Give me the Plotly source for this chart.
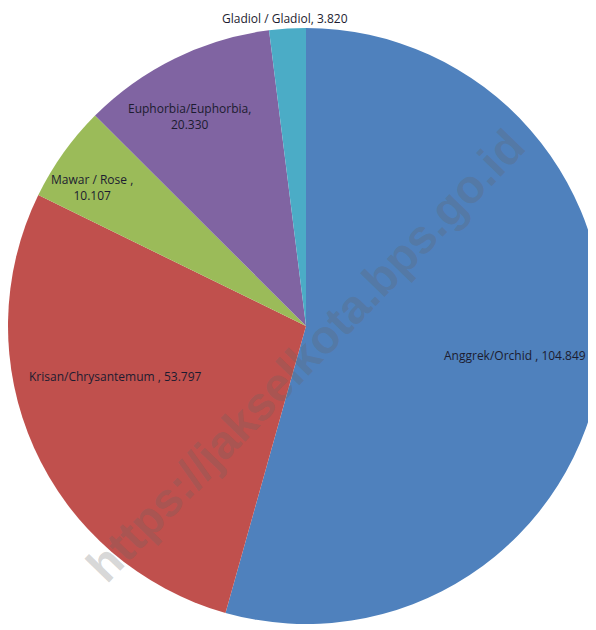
import numpy as np
import plotly.graph_objects as go

labels = ["Anggrek/Orchid", "Krisan/Chrysantemum", "Mawar / Rose", "Euphorbia/Euphorbia", "Gladiol / Gladiol"]
values = [104849, 53797, 10107, 20330, 3820]
value_text = ["104.849", "53.797", "10.107", "20.330", "3.820"]
colors = ["#4F81BD", "#C0504D", "#9BBB59", "#8064A2", "#4BACC6"]

texts = [
    f"{labels[0]} , {value_text[0]}",
    f"{labels[1]} , {value_text[1]}",
    f"{labels[2]} ,<br>{value_text[2]}",
    f"{labels[3]},<br>{value_text[3]}",
    f"{labels[4]}, {value_text[4]}",
]

W, H = 596, 630
OFF = 8  # page body margin offset
# pie: radius 298, centre at figure px (298, 318)
dom_x = [0.0, 1.0]
dom_y = [1 - 616 / H, 1 - 20 / H]

fig = go.Figure(go.Pie(
    labels=labels,
    values=values,
    textinfo="none",
    marker=dict(colors=colors, line=dict(width=0)),
    sort=False,
    direction="clockwise",
    rotation=0,
    showlegend=False,
    domain=dict(x=dom_x, y=dom_y),
    hoverinfo="label+value",
))

# label placement: slice mid-angle (from data) with per-label nudges (layout style)
cx_px = (dom_x[0] + dom_x[1]) / 2 * W
cy_px = (1 - (dom_y[0] + dom_y[1]) / 2) * H
r_px = min((dom_x[1] - dom_x[0]) * W, (dom_y[1] - dom_y[0]) * H) / 2
frac = np.array(values) / np.sum(values)
ends = np.cumsum(frac) * 360
mids = ends - frac * 180
angle_nudge = [0.3, 9.4, -2.5, -2.9, -0.4]
radius_frac = [0.708, 0.662, 0.856, 0.805, 1.036]
for i, t in enumerate(texts):
    a = np.deg2rad(mids[i] + angle_nudge[i])
    px = cx_px + radius_frac[i] * r_px * np.sin(a)
    py = cy_px - radius_frac[i] * r_px * np.cos(a)
    fig.add_annotation(
        text=t, x=px / W, y=1 - py / H, xref="paper", yref="paper",
        showarrow=False, xanchor="center", yanchor="middle",
        font=dict(family="Open Sans", size=12, color="#1c1c30"),
        align="center", borderpad=0,
    )

fig.add_annotation(
    text="https://jakselkota.bps.go.id",
    x=(305 - OFF) / W, y=1 - (355 - OFF) / H, xref="paper", yref="paper",
    showarrow=False, textangle=-46,
    font=dict(family="Liberation Sans", size=47, color="rgba(100,100,100,0.27)", weight="bold"),
)

fig.update_layout(
    width=W, height=H,
    margin=dict(l=0, r=0, t=0, b=0),
    paper_bgcolor="white",
    plot_bgcolor="white",
)

fig.write_html("out.html")
